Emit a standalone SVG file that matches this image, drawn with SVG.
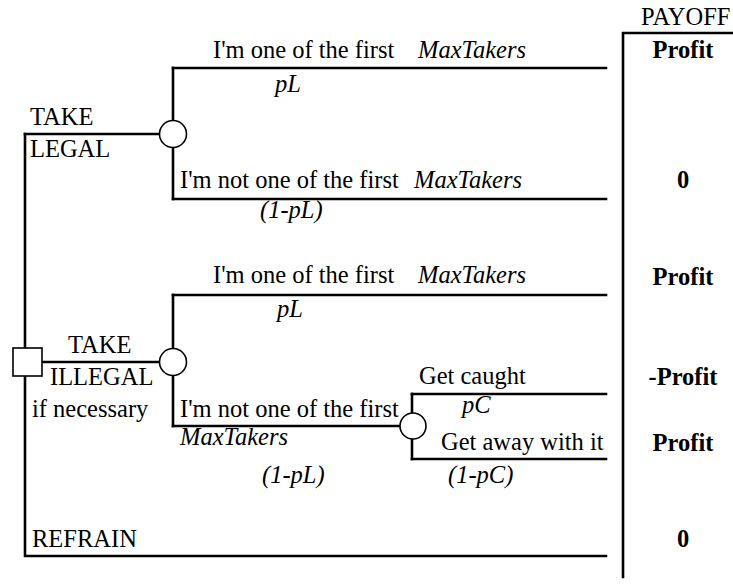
<svg xmlns="http://www.w3.org/2000/svg" width="733" height="585" viewBox="0 0 733 585">
  <style>
    .t { font-family: "Liberation Serif", "Times New Roman", serif; font-size: 24.5px; fill: #000; }
    .i { font-style: italic; }
    .b { font-weight: bold; text-anchor: middle; }
    .ln { stroke: #000; stroke-width: 2.6; fill: none; stroke-linecap: square; }
    .node { stroke: #000; stroke-width: 1.6; fill: #fff; }
  </style>
  <rect width="733" height="585" fill="#fff"/>

  <!-- branches of the decision tree -->
  <g id="connectors" class="ln">
    <!-- trunk from the decision node -->
    <path d="M25 134 V556 H606"/>
    <!-- TAKE LEGAL -->
    <path d="M25 134 H160"/>
    <path d="M173 68 V199"/>
    <path d="M173 68 H606"/>
    <path d="M173 199 H606"/>
    <!-- TAKE ILLEGAL -->
    <path d="M42 362 H160"/>
    <path d="M173 295 V426"/>
    <path d="M173 295 H606"/>
    <path d="M173 426 H400"/>
    <!-- caught / not caught -->
    <path d="M412 394 V459"/>
    <path d="M412 394 H606"/>
    <path d="M412 459 H606"/>
    <!-- payoff column -->
    <path d="M623 577 V33 H733"/>
  </g>

  <g id="decision">
    <rect class="node" x="13" y="348" width="29" height="28"/>
  </g>
  <g id="chance-legal">
    <circle class="node" cx="173" cy="134" r="13.5"/>
  </g>
  <g id="chance-illegal">
    <circle class="node" cx="173" cy="362" r="13.5"/>
  </g>
  <g id="chance-caught">
    <circle class="node" cx="413" cy="426" r="13"/>
  </g>

  <!-- branch labels -->
  <g id="labels" class="t">
    <text x="30" y="125">TAKE</text>
    <text x="30" y="157">LEGAL</text>
    <text x="213" y="58">I'm one of the first</text>
    <text class="i" x="418" y="58">MaxTakers</text>
    <text class="i" x="275" y="92">pL</text>
    <text x="180" y="188">I'm not one of the first</text>
    <text class="i" x="414" y="188">MaxTakers</text>
    <text class="i" x="260" y="218">(1-pL)</text>

    <text x="68" y="353">TAKE</text>
    <text x="50" y="385">ILLEGAL</text>
    <text x="32" y="417">if necessary</text>
    <text x="213" y="283">I'm one of the first</text>
    <text class="i" x="418" y="283">MaxTakers</text>
    <text class="i" x="277" y="317">pL</text>
    <text x="180" y="417">I'm not one of the first</text>
    <text class="i" x="180" y="445">MaxTakers</text>
    <text class="i" x="262" y="483">(1-pL)</text>

    <text x="419" y="384">Get caught</text>
    <text class="i" x="462" y="413">pC</text>
    <text x="441" y="450">Get away with it</text>
    <text class="i" x="448" y="483">(1-pC)</text>

    <text x="32" y="547">REFRAIN</text>
  </g>

  <!-- payoff column -->
  <g id="payoffs" class="t">
    <text x="641" y="25">PAYOFF</text>
    <text class="b" x="683" y="58">Profit</text>
    <text class="b" x="683" y="188">0</text>
    <text class="b" x="683" y="285">Profit</text>
    <text class="b" x="683" y="385">-Profit</text>
    <text class="b" x="683" y="451">Profit</text>
    <text class="b" x="683" y="547">0</text>
  </g>
</svg>
